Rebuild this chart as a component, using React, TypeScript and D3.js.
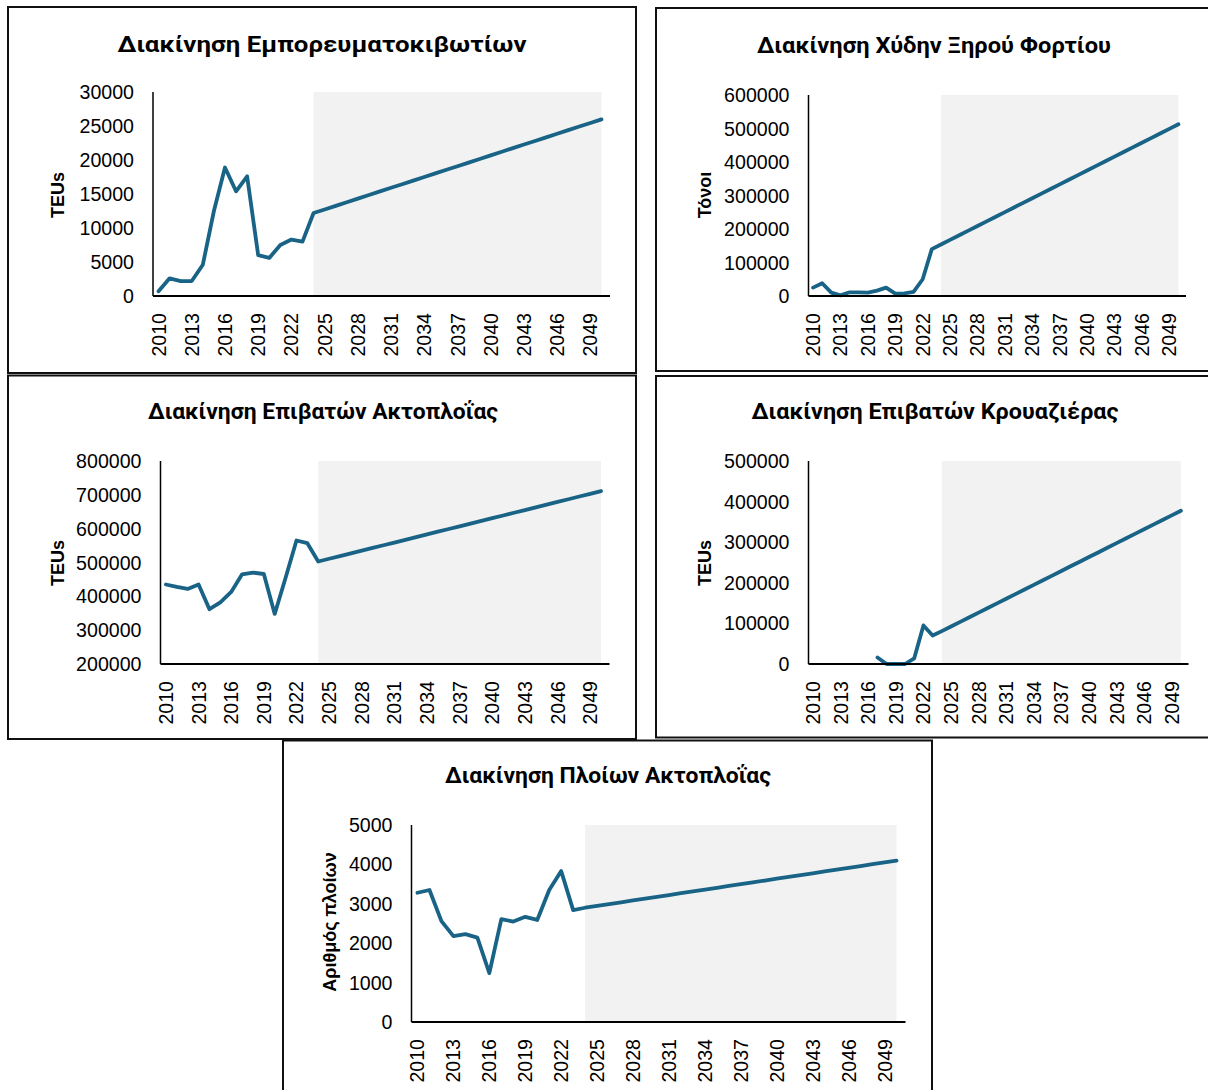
import React from "react";
import * as d3 from "d3";

const years: number[] = [
  2010, 2011, 2012, 2013, 2014, 2015, 2016, 2017, 2018, 2019, 2020, 2021, 2022, 2023,
  2024, 2025, 2026, 2027, 2028, 2029, 2030, 2031, 2032, 2033, 2034, 2035, 2036, 2037,
  2038, 2039, 2040, 2041, 2042, 2043, 2044, 2045, 2046, 2047, 2048, 2049, 2050,
];
const yearLabels: number[] = [2010, 2013, 2016, 2019, 2022, 2025, 2028, 2031, 2034, 2037, 2040, 2043, 2046, 2049];
const forecastStart = 2024;
const forecastEnd = 2050;

const containers: (number | null)[] = [
  700, 2600, 2200, 2200, 4600, 12500, 18900, 15400, 17600, 6000, 5600, 7500, 8300, 8000,
  12200, 12730, 13260, 13790, 14320, 14850, 15380, 15910, 16440, 16970, 17500, 18030, 18560, 19090,
  19620, 20150, 20680, 21210, 21740, 22270, 22800, 23330, 23860, 24390, 24920, 25450, 25980,
];
const bulkDry: (number | null)[] = [
  25000, 38000, 10000, 2000, 11000, 11000, 10000, 16000, 25000, 7000, 8000, 12000, 50000, 140000,
  153800, 167600, 181400, 195200, 209000, 222800, 236600, 250400, 264200, 278000, 291800, 305600, 319400, 333200,
  347000, 360800, 374600, 388400, 402200, 416000, 429800, 443600, 457400, 471200, 485000, 498800, 512600,
];
const coastalPassengers: (number | null)[] = [
  435000, 428000, 422000, 435000, 362000, 382000, 413000, 465000, 470000, 466000, 348000, 455000, 565000, 557000,
  503000, 511000, 519000, 527000, 535000, 543000, 551000, 559000, 567000, 575000, 583000, 591000, 599000, 607000,
  615000, 623000, 631000, 639000, 647000, 655000, 663000, 671000, 679000, 687000, 695000, 703000, 711000,
];
const cruisePassengers: (number | null)[] = [
  null, null, null, null, null, null, null, 16000, 0, 0, 0, 14000, 95000, 70000,
  81000, 92400, 103800, 115200, 126600, 138000, 149400, 160800, 172200, 183600, 195000, 206400, 217800, 229200,
  240600, 252000, 263400, 274800, 286200, 297600, 309000, 320400, 331800, 343200, 354600, 366000, 377400,
];
const coastalShips: (number | null)[] = [
  3280, 3350, 2560, 2180, 2230, 2140, 1240, 2610, 2550, 2670, 2590, 3350, 3830, 2840,
  2900, 2946, 2992, 3038, 3084, 3130, 3176, 3222, 3268, 3314, 3360, 3406, 3452, 3498,
  3544, 3590, 3636, 3682, 3728, 3774, 3820, 3866, 3912, 3958, 4004, 4050, 4096,
];

const titles = [
  "Διακίνηση Εμπορευματοκιβωτίων",
  "Διακίνηση Χύδην Ξηρού Φορτίου",
  "Διακίνηση Επιβατών Ακτοπλοΐας",
  "Διακίνηση Επιβατών Κρουαζιέρας",
  "Διακίνηση Πλοίων Ακτοπλοΐας",
];
const yTitles = ["TEUs", "Τόνοι", "TEUs", "TEUs", "Αριθμός πλοίων"];
const yDomains: [number, number][] = [[0, 30000], [0, 600000], [200000, 800000], [0, 500000], [0, 5000]];
const yTickSteps = [5000, 100000, 100000, 100000, 1000];
const seriesList = [containers, bulkDry, coastalPassengers, cruisePassengers, coastalShips];

type Layout = {
  box: [number, number, number, number];
  plot: [number, number, number, number]; // left, top, right, bottom
  title: [number, number, number];
  yTitle: [number, number];
};

const layouts: Layout[] = [
  { box: [8, 7, 628, 366], plot: [153, 92, 607, 296], title: [322, 52, 409], yTitle: [64, 195] },
  { box: [656, 8, 560, 363], plot: [808.5, 95, 1183, 296], title: [934, 53, 354], yTitle: [711, 195] },
  { box: [8, 375.5, 628, 363.5], plot: [160.5, 461, 606.5, 664], title: [323, 419, 350], yTitle: [64, 563] },
  { box: [656, 376, 560, 361.5], plot: [808.5, 461, 1185.5, 664], title: [935, 419, 367], yTitle: [711, 563] },
  { box: [283, 740.5, 649, 400], plot: [411.5, 825, 902.5, 1022], title: [608, 783, 326], yTitle: [336, 922] },
];

const LINE = "#186386";
const TICK_FONT = "'Liberation Sans', Arial, sans-serif";

function Panel({ i }: { i: number }) {
  const L = layouts[i];
  const [pl, pt, pr, pb] = L.plot;
  const x = d3.scaleBand<number>().domain(years).range([pl, pr]);
  const cx = (yr: number) => (x(yr) as number) + x.bandwidth() / 2;
  const y = d3.scaleLinear().domain(yDomains[i]).range([pb, pt]);
  const ticks = d3.range(yDomains[i][0], yDomains[i][1] + 1, yTickSteps[i]);
  const data = seriesList[i];
  const line = d3
    .line<number | null>()
    .defined((d) => d != null)
    .x((_, k) => cx(years[k]))
    .y((d) => y(d as number));
  const path = line(data) || "";
  return (
    <g>
      <rect x={L.box[0]} y={L.box[1]} width={L.box[2]} height={L.box[3]} fill="#fff" stroke="#111" strokeWidth={2} />
      <text
        x={L.title[0]}
        y={L.title[1]}
        textAnchor="middle"
        fontFamily="Roboto, 'Noto Sans', sans-serif"
        fontWeight={700}
        fontSize={22}
        textLength={L.title[2]}
        lengthAdjust="spacingAndGlyphs"
        fill="#000"
      >
        {titles[i]}
      </text>
      <rect
        x={cx(forecastStart)}
        y={pt}
        width={cx(forecastEnd) - cx(forecastStart)}
        height={pb - pt}
        fill="#f2f2f2"
      />
      {ticks.map((t) => (
        <text
          key={t}
          x={pl - 19}
          y={y(t) + 7}
          textAnchor="end"
          fontFamily={TICK_FONT}
          fontSize={19.6}
          fill="#000"
        >
          {t}
        </text>
      ))}
      {yearLabels.map((yr) => (
        <text
          key={yr}
          transform={`translate(${cx(yr) + 7},${pb + 17}) rotate(-90)`}
          textAnchor="end"
          fontFamily={TICK_FONT}
          fontSize={19.6}
          fill="#000"
        >
          {yr}
        </text>
      ))}
      <text
        transform={`translate(${L.yTitle[0]},${L.yTitle[1]}) rotate(-90)`}
        textAnchor="middle"
        fontFamily={TICK_FONT}
        fontWeight={700}
        fontSize={18}
        fill="#000"
      >
        {yTitles[i]}
      </text>
      <path d={path} fill="none" stroke={LINE} strokeWidth={3.8} strokeLinejoin="round" strokeLinecap="round" />
      <line x1={pl} x2={pl} y1={pt} y2={pb} stroke="#000" strokeWidth={1.5} />
      <line x1={pl} x2={pr + 3} y1={pb} y2={pb} stroke="#000" strokeWidth={2} />
    </g>
  );
}

export default function App() {
  return (
    <svg
      width={1208}
      height={1090}
      viewBox="0 0 1208 1090"
      style={{ position: "absolute", left: 0, top: 0, display: "block", background: "#fff" }}
    >
      <rect x={0} y={0} width={1208} height={1090} fill="#fff" />
      {[0, 1, 2, 3, 4].map((i) => (
        <Panel key={i} i={i} />
      ))}
    </svg>
  );
}
